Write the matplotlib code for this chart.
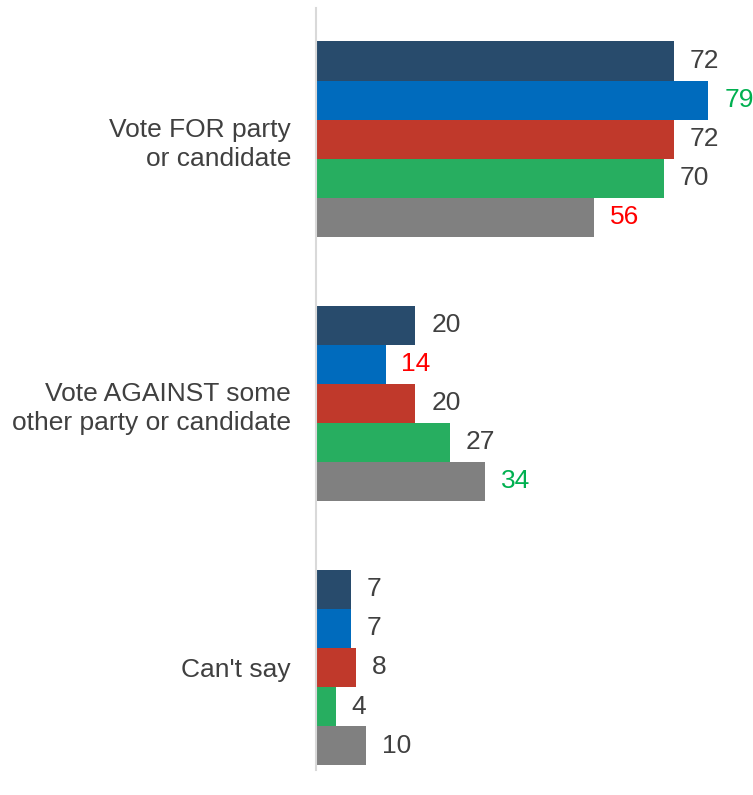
import numpy as np
import matplotlib as mpl
mpl.use('Agg')
import matplotlib.pyplot as plt

plt.rcParams['font.family'] = ['Liberation Sans', 'DejaVu Sans']

categories = ['Vote FOR party\nor candidate',
              'Vote AGAINST some\nother party or candidate',
              "Can't say"]
series_colors = ['#284B6C', '#006BBD', '#C0392B', '#27AE60', '#808080']
values = [
    [72, 79, 72, 70, 56],
    [20, 14, 20, 27, 34],
    [7, 7, 8, 4, 10],
]
label_colors = [
    ['#404040', '#00B050', '#404040', '#404040', '#FF0000'],
    ['#404040', '#FF0000', '#404040', '#404040', '#00B050'],
    ['#404040'] * 5,
]

fig = plt.figure(figsize=(7.53, 7.95), dpi=100)
ax = fig.add_axes([316 / 753, 1 - 770 / 795, 437 / 753, 762 / 795])

h = 0.1477
for gi, row in enumerate(values):
    for si, v in enumerate(row):
        y = gi + (si - 2) * h
        ax.barh(y, v, height=h, color=series_colors[si], edgecolor='none')
        ax.text(v + 3.2, y, str(v), va='center', ha='left', fontsize=19,
                color=label_colors[gi][si])

ax.set_xlim(0, 88)
ax.set_ylim(2.388, -0.496)
ax.set_yticks(range(len(categories)))
ax.set_yticklabels(categories, fontsize=19, color='#404040', ha='right',
                   linespacing=1.27)
ax.tick_params(axis='y', length=0, pad=18)
ax.set_xticks([])
for s in ['top', 'right', 'bottom']:
    ax.spines[s].set_visible(False)
ax.spines['left'].set_color('#D9D9D9')
ax.spines['left'].set_linewidth(1.5)

fig.savefig('out.png', dpi=100)
